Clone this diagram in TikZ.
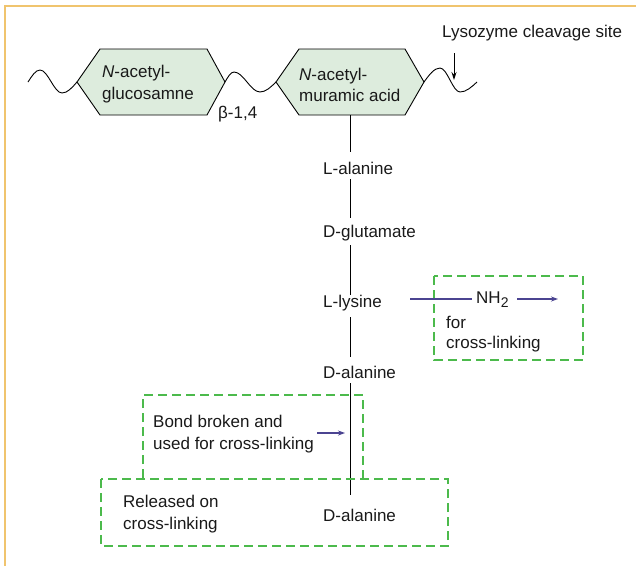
\documentclass[tikz,border=0pt]{standalone}
\usepackage{fontspec}
\setmainfont{Liberation Sans}
\usetikzlibrary{arrows.meta}
\definecolor{frameorange}{RGB}{240,196,110}
\definecolor{boxgreen}{RGB}{76,186,76}
\definecolor{hexfill}{RGB}{221,236,221}
\definecolor{arrowpurple}{RGB}{75,68,145}
\definecolor{txt}{RGB}{25,25,25}
\tikzset{
  lbl/.style={anchor=west, inner sep=0pt, align=left, text=txt, font=\fontsize{17}{21.5}\selectfont},
  hexshape/.style={draw=black, line width=0.9pt, fill=hexfill, line join=miter},
  wave/.style={draw=black, line width=0.9pt},
  chain/.style={draw=black, line width=1pt},
  greenbox/.style={draw=boxgreen, line width=2pt, dash pattern=on 9pt off 5pt},
  purplearrow/.style={draw=arrowpurple, line width=1.2pt, -{Stealth[length=7pt,width=5pt]}},
  purpleline/.style={draw=arrowpurple, line width=1.2pt},
  blackarrow/.style={draw=black, line width=1pt, -{Stealth[length=8pt,width=5pt]}}
}
\begin{document}
\begin{tikzpicture}[x=1pt,y=-1pt]
\useasboundingbox (0,0) rectangle (636,566);
% frame
\draw[frameorange, line width=1.2pt] (5,566) -- (5,6) -- (636,6);

% hexagons
\draw[hexshape] (77,82) -- (100,49) -- (207,49) -- (225,82) -- (207,115) -- (100,115) -- cycle;
\draw[hexshape] (276,82) -- (299,49) -- (405,49) -- (424,82) -- (405,115) -- (299,115) -- cycle;
\coordinate (hexA) at (77,82);
\coordinate (hexAr) at (225,82);
\coordinate (hexBl) at (276,82);
\coordinate (hexBr) at (424,82);
\coordinate (hexBb) at (350,115);

% waves
\coordinate (w0) at (28,82);
\coordinate (w9) at (477,82);
\draw[wave] (w0) sin (40,70) cos (51,81.5) sin (62,93) cos (hexA);
\draw[wave] (hexAr) sin (234,72) cos (247,82) sin (260,92) cos (hexBl);
\draw[wave] (hexBr) sin (440,68) cos (450,80) sin (460,92) cos (w9);

% hex texts
\node[lbl] (nag) at (102,84) {\textit{N}-acetyl-\\glucosamne};
\node[lbl] (nam) at (299,85) {\textit{N}-acetyl-\\muramic acid};
\node[lbl] (beta) at (218,114) {β-1,4};

% lysozyme
\node[lbl] (lyso) at (442,33) {Lysozyme cleavage site};
\coordinate (lysoA) at (454,53);
\coordinate (lysoB) at (454,80);
\draw[blackarrow] (lysoA) -- (lysoB);

% chain labels
\node[lbl] (lala) at (323,168) {L-alanine};
\node[lbl] (dglu) at (323,233) {D-glutamate};
\node[lbl] (llys) at (323,303) {L-lysine};
\node[lbl] (dala1) at (323,372) {D-alanine};
\node[lbl] (dala2) at (323,515) {D-alanine};

\coordinate (s1) at (350,152);
\coordinate (s2a) at (350,179);
\coordinate (s2b) at (350,218);
\coordinate (s3a) at (350,245);
\coordinate (s3b) at (350,295);
\coordinate (s4a) at (350,317);
\coordinate (s4b) at (350,357);
\coordinate (s5a) at (350,383);
\coordinate (s5b) at (350,495);
\draw[chain] (hexBb) -- (s1);
\draw[chain] (s2a) -- (s2b);
\draw[chain] (s3a) -- (s3b);
\draw[chain] (s4a) -- (s4b);
\draw[chain] (s5a) -- (s5b);

% NH2 box
\draw[greenbox] (434,276) rectangle (583,360);
\node[lbl] (nh2) at (476,300) {NH\raisebox{-0.45ex}{\fontsize{14}{14}\selectfont 2}};
\coordinate (nhl) at (410,299);
\coordinate (nhr) at (472,299);
\draw[purpleline] (nhl) -- (nhr);
\coordinate (nha) at (517,299);
\coordinate (nhb) at (558,299);
\draw[purplearrow] (nha) -- (nhb);
\node[lbl, font=\fontsize{17}{19.5}\selectfont] (forcl) at (446,334) {for\\cross-linking};

% bond broken box
\draw[greenbox] (143,478) -- (143,395) -- (363,395) -- (363,478);
\node[lbl] (bond) at (153,434) {Bond broken and\\used for cross-linking};
\coordinate (ba) at (317,433);
\coordinate (bb) at (345,433);
\draw[purplearrow] (ba) -- (bb);

% released box
\draw[greenbox] (101,479) rectangle (448,546);
\node[lbl] (rel) at (123,514) {Released on\\cross-linking};
\end{tikzpicture}
\end{document}
